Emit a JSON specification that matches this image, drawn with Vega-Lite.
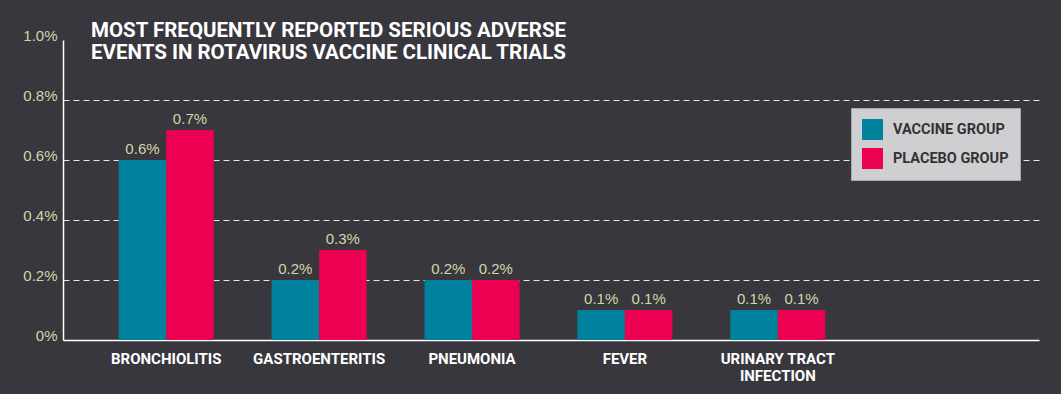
{
  "$schema": "https://vega.github.io/schema/vega-lite/v6.json",
  "width": 976,
  "height": 300,
  "autosize": {"type": "none"},
  "padding": {"left": 63, "top": 40, "right": 22, "bottom": 54},
  "background": "#38373d",
  "title": {
    "text": ["MOST FREQUENTLY REPORTED SERIOUS ADVERSE", "EVENTS IN ROTAVIRUS VACCINE CLINICAL TRIALS"],
    "anchor": "start",
    "frame": "group",
    "orient": "top",
    "offset": -35,
    "dx": 28,
    "font": "Roboto",
    "fontSize": 20.5,
    "fontWeight": "bold",
    "color": "#ffffff",
    "lineHeight": 22
  },
  "config": {
    "view": {"stroke": null},
    "axis": {"domainColor": "#ffffff", "domainWidth": 1.5, "ticks": false}
  },
  "data": {
    "values": [
      {"event": "BRONCHIOLITIS", "group": "VACCINE GROUP", "rate": 0.006},
      {"event": "BRONCHIOLITIS", "group": "PLACEBO GROUP", "rate": 0.007},
      {"event": "GASTROENTERITIS", "group": "VACCINE GROUP", "rate": 0.002},
      {"event": "GASTROENTERITIS", "group": "PLACEBO GROUP", "rate": 0.003},
      {"event": "PNEUMONIA", "group": "VACCINE GROUP", "rate": 0.002},
      {"event": "PNEUMONIA", "group": "PLACEBO GROUP", "rate": 0.002},
      {"event": "FEVER", "group": "VACCINE GROUP", "rate": 0.001},
      {"event": "FEVER", "group": "PLACEBO GROUP", "rate": 0.001},
      {"event": "URINARY TRACT INFECTION", "group": "VACCINE GROUP", "rate": 0.001},
      {"event": "URINARY TRACT INFECTION", "group": "PLACEBO GROUP", "rate": 0.001}
    ]
  },
  "encoding": {
    "x": {
      "field": "event",
      "type": "nominal",
      "sort": null,
      "scale": {"paddingInner": 0.3787, "paddingOuter": 0.881, "align": 0.2068},
      "axis": {
        "title": null,
        "labelAngle": 0,
        "labelColor": "#ffffff",
        "labelFont": "Roboto",
        "labelFontWeight": "bold",
        "labelFontSize": 15,
        "labelPadding": 11,
        "labelLineHeight": 17,
        "labelExpr": "datum.label == 'URINARY TRACT INFECTION' ? ['URINARY TRACT', 'INFECTION'] : datum.label"
      }
    },
    "xOffset": {
      "field": "group",
      "type": "nominal",
      "sort": ["VACCINE GROUP", "PLACEBO GROUP"],
      "scale": {"paddingInner": 0, "paddingOuter": 0}
    },
    "y": {
      "field": "rate",
      "type": "quantitative",
      "scale": {"domain": [0, 0.01], "nice": false},
      "axis": {
        "title": null,
        "values": [0, 0.002, 0.004, 0.006, 0.008, 0.01],
        "labelExpr": "datum.value == 0 ? '0%' : format(datum.value, '.1%')",
        "labelColor": "#d6d4a6",
        "labelFont": "Liberation Sans",
        "labelFontSize": 15,
        "labelPadding": 6,
        "labelBaseline": "alphabetic",
        "labelFlush": true,
        "grid": true,
        "gridColor": "#e6e6e6",
        "gridDash": [6, 4],
        "gridWidth": 1,
        "gridOpacity": {"condition": {"test": "datum.value >= 0.01 || datum.value <= 0", "value": 0}, "value": 1}
      }
    }
  },
  "layer": [
    {
      "mark": {"type": "bar"},
      "encoding": {
        "color": {
          "field": "group",
          "type": "nominal",
          "sort": ["VACCINE GROUP", "PLACEBO GROUP"],
          "scale": {"domain": ["VACCINE GROUP", "PLACEBO GROUP"], "range": ["#00819d", "#eb0052"]},
          "legend": {
            "title": null,
            "orient": "none",
            "legendX": 788,
            "legendY": 68,
            "fillColor": "#cfcfd1",
            "strokeColor": "#a9a9ab",
            "padding": 11,
            "rowPadding": 8,
            "symbolType": "square",
            "symbolSize": 441,
            "symbolStrokeWidth": 0,
            "symbolOpacity": 1,
            "labelOffset": 10,
            "labelFont": "Roboto",
            "labelFontWeight": "bold",
            "labelFontSize": 14.5,
            "labelColor": "#333333",
            "labelLimit": 200
          }
        }
      }
    },
    {
      "mark": {"type": "text", "dy": -6, "baseline": "alphabetic", "font": "Liberation Sans", "fontSize": 15, "color": "#d6d4a6"},
      "encoding": {
        "text": {"field": "rate", "type": "quantitative", "format": ".1%"}
      }
    }
  ]
}
